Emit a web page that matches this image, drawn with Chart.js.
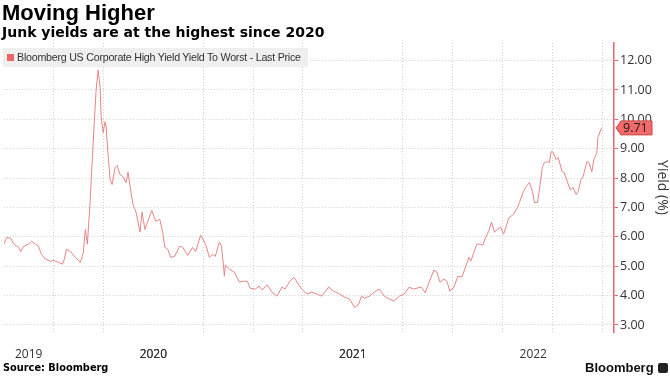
<!DOCTYPE html>
<html>
<head>
<meta charset="utf-8">
<script src="https://cdn.jsdelivr.net/npm/chart.js@4/dist/chart.umd.min.js"></script>
<style>
  html, body { margin: 0; padding: 0; background: #fff; }
  #wrap { position: relative; width: 670px; height: 377px; overflow: hidden; }
  #chart { position: absolute; left: 0; top: 0; }
  .title { position: absolute; left: 2px; top: 2px; font: bold 22px/22px "Liberation Sans", Arial, sans-serif; color: #000; }
  .subtitle { position: absolute; left: 2px; top: 25px; font: bold 14px/14px "DejaVu Sans", sans-serif; color: #000; white-space: nowrap; }
  .legend { position: absolute; left: 3px; top: 48px; width: 305px; height: 19px; background: #efefef; }
  .legend .mark { position: absolute; left: 4px; top: 6px; width: 7px; height: 7px; background: #f06565; }
  .legend .txt { position: absolute; left: 14px; top: 3px; font: 10.7px/13px "Liberation Sans", Arial, sans-serif; letter-spacing: -0.25px; color: #333; white-space: nowrap; }
  .source { position: absolute; left: 3px; top: 362px; font: bold 9.8px/12px "DejaVu Sans", sans-serif; color: #000; white-space: nowrap; }
  .brand { position: absolute; left: 585px; top: 360px; font: bold 13px/15px "Liberation Sans", Arial, sans-serif; color: #111; }
  .brand i { display: inline-block; width: 10px; height: 10px; margin-left: 4px; background: #222; border-radius: 2px; vertical-align: -1px; }
</style>
</head>
<body>
<div id="wrap">
  <canvas id="chart" width="670" height="377"></canvas>
  <div class="title">Moving Higher</div>
  <div class="subtitle">Junk yields are at the highest since 2020</div>
  <div class="legend"><span class="mark"></span><span class="txt">Bloomberg US Corporate High Yield Yield To Worst - Last Price</span></div>
  <div class="source">Source: Bloomberg</div>
  <div class="brand">Bloomberg<i></i></div>
</div>
<script>
// dates as decimal years, yields in %
const DATES = [
  2019.750, 2019.765, 2019.785, 2019.800, 2019.825, 2019.835, 2019.850, 2019.875, 2019.890, 2019.909,
  2019.924, 2019.939, 2019.959, 2019.984, 2020.000, 2020.024, 2020.044, 2020.054, 2020.064, 2020.084,
  2020.109, 2020.134, 2020.149, 2020.159, 2020.169, 2020.183, 2020.188, 2020.203, 2020.213, 2020.223,
  2020.233, 2020.238, 2020.248, 2020.258, 2020.263, 2020.273, 2020.283, 2020.293, 2020.308, 2020.318,
  2020.333, 2020.348, 2020.363, 2020.373, 2020.388, 2020.398, 2020.413, 2020.433, 2020.443, 2020.458,
  2020.473, 2020.492, 2020.512, 2020.532, 2020.547, 2020.557, 2020.572, 2020.587, 2020.607, 2020.632,
  2020.647, 2020.672, 2020.697, 2020.712, 2020.737, 2020.762, 2020.781, 2020.796, 2020.811, 2020.831,
  2020.841, 2020.851, 2020.856, 2020.861, 2020.881, 2020.906, 2020.931, 2020.956, 2020.971, 2020.986,
  2021.011, 2021.031, 2021.046, 2021.070, 2021.095, 2021.120, 2021.145, 2021.160, 2021.185, 2021.205,
  2021.220, 2021.245, 2021.270, 2021.295, 2021.320, 2021.344, 2021.379, 2021.404, 2021.434, 2021.459,
  2021.484, 2021.509, 2021.529, 2021.544, 2021.559, 2021.584, 2021.608, 2021.633, 2021.658, 2021.683,
  2021.708, 2021.733, 2021.758, 2021.783, 2021.803, 2021.843, 2021.863, 2021.883, 2021.907, 2021.922,
  2021.937, 2021.957, 2021.972, 2021.987, 2022.007, 2022.027, 2022.047, 2022.067, 2022.082, 2022.092,
  2022.107, 2022.122, 2022.137, 2022.152, 2022.167, 2022.182, 2022.196, 2022.211, 2022.226, 2022.241,
  2022.256, 2022.271, 2022.281, 2022.306, 2022.326, 2022.336, 2022.356, 2022.371, 2022.386, 2022.401,
  2022.411, 2022.426, 2022.436, 2022.451, 2022.461, 2022.476, 2022.486, 2022.495, 2022.505, 2022.520,
  2022.530, 2022.550, 2022.560, 2022.575, 2022.590, 2022.605, 2022.620, 2022.630, 2022.645, 2022.655,
  2022.674, 2022.684, 2022.699, 2022.709, 2022.724, 2022.729, 2022.744, 2022.749
];
const YIELDS = [
  5.75, 5.98, 5.95, 5.75, 5.64, 5.50, 5.68, 5.75, 5.85, 5.75,
  5.68, 5.40, 5.24, 5.17, 5.20, 5.13, 5.07, 5.24, 5.58, 5.50,
  5.30, 5.13, 5.47, 6.25, 5.75, 7.20, 7.90, 9.80, 11.00, 11.68,
  11.10, 10.10, 9.55, 9.92, 9.75, 8.80, 7.95, 7.78, 8.36, 8.43,
  8.12, 8.05, 7.85, 8.20, 7.51, 7.10, 6.84, 6.16, 6.84, 6.25,
  6.55, 6.90, 6.53, 6.60, 6.16, 5.65, 5.58, 5.30, 5.34, 5.68,
  5.65, 5.37, 5.64, 5.50, 6.05, 5.75, 5.30, 5.40, 5.34, 5.82,
  5.70, 5.07, 4.66, 5.04, 4.90, 4.80, 4.46, 4.49, 4.49, 4.25,
  4.22, 4.32, 4.19, 4.36, 4.12, 3.98, 4.29, 4.22, 4.49, 4.62,
  4.46, 4.22, 4.05, 4.12, 4.05, 3.98, 4.29, 4.15, 4.05, 3.95,
  3.88, 3.60, 3.70, 3.98, 3.91, 3.98, 4.12, 4.22, 3.98, 3.88,
  3.82, 3.98, 4.05, 4.29, 4.22, 4.29, 4.10, 4.46, 4.87, 4.80,
  4.46, 4.56, 4.49, 4.15, 4.29, 4.66, 4.63, 5.00, 5.30, 5.17,
  5.47, 5.75, 5.75, 5.72, 5.99, 6.19, 6.50, 6.16, 6.26, 6.33,
  6.09, 6.39, 6.63, 6.77, 7.00, 7.17, 7.55, 7.72, 7.85, 7.55,
  7.17, 7.17, 7.61, 8.39, 8.53, 8.56, 8.53, 8.90, 8.87, 8.63,
  8.70, 8.22, 8.19, 7.90, 7.61, 7.68, 7.44, 7.55, 7.95, 8.05,
  8.56, 8.53, 8.22, 8.63, 8.87, 9.38, 9.65, 9.71
];

const X_MIN = 2019.75, X_MAX = 2022.81;
const QUARTER_GRID = [2020, 2020.25, 2020.5, 2020.75, 2021, 2021.25, 2021.5, 2021.75, 2022, 2022.25, 2022.5, 2022.75];
const YEAR_LABELS = ['2019', '2020', '2021', '2022'];
const YEAR_LABEL_POS = [2019.875, 2020.5, 2021.5, 2022.405];

const LINE_COLOR = '#e88585';
const AXIS_RED = '#e8626f';
const GRID = '#cfcfcf';
const FONT = '"Open Sans", "Liberation Sans", sans-serif';

const lastValueTag = {
  id: 'lastValueTag',
  afterDraw(chart) {
    const y = chart.scales.y;
    const v = YIELDS[YIELDS.length - 1];
    const py = y.getPixelForValue(v);
    const x0 = y.left + 2;
    const ctx = chart.ctx;
    ctx.save();
    ctx.beginPath();
    ctx.moveTo(x0, py);
    ctx.lineTo(x0 + 5, py - 7);
    ctx.lineTo(x0 + 36, py - 7);
    ctx.lineTo(x0 + 36, py + 7);
    ctx.lineTo(x0 + 5, py + 7);
    ctx.closePath();
    ctx.fillStyle = '#f26a6a';
    ctx.fill();
    ctx.strokeStyle = '#c84848';
    ctx.lineWidth = 1;
    ctx.stroke();
    ctx.fillStyle = '#1a1a1a';
    ctx.font = '12.5px ' + FONT;
    ctx.textBaseline = 'middle';
    ctx.fillText(v.toFixed(2), x0 + 7, py + 0.5);
    ctx.restore();
  }
};

new Chart(document.getElementById('chart'), {
  type: 'line',
  data: {
    datasets: [{
      data: DATES.map((d, i) => ({ x: d, y: YIELDS[i] })),
      borderColor: LINE_COLOR,
      borderWidth: 1,
      pointRadius: 0,
      tension: 0,
    }]
  },
  options: {
    responsive: false,
    animation: false,
    layout: { padding: { top: 43, left: 0, right: 0, bottom: 0 } },
    plugins: { legend: { display: false }, tooltip: { enabled: false } },
    scales: {
      x: {
        type: 'linear', position: 'bottom', min: X_MIN, max: X_MAX,
        afterBuildTicks: s => {
          s.ticks = [...QUARTER_GRID, ...YEAR_LABEL_POS].sort((a, b) => a - b).map(v => ({ value: v }));
        },
        afterFit: s => { s.height = 45; },
        ticks: {
          autoSkip: false, maxRotation: 0, padding: 15, color: '#333',
          font: { family: FONT, size: 12 },
          callback: v => { const i = YEAR_LABEL_POS.indexOf(v); return i >= 0 ? YEAR_LABELS[i] : ''; }
        },
        grid: {
          drawTicks: false,
          color: ctx => (ctx.tick && YEAR_LABEL_POS.includes(ctx.tick.value)) ? 'rgba(0,0,0,0)' : GRID,
        },
        border: { display: false, dash: [1, 2] }
      },
      y: {
        position: 'right', min: 2.76, max: 12.6,
        afterFit: s => { s.width = 56; },
        ticks: {
          stepSize: 0.5, includeBounds: false, padding: 2, color: '#333',
          font: { family: FONT, size: 12.5 },
          callback: v => Number.isInteger(v) ? v.toFixed(2) : ''
        },
        grid: {
          tickLength: 4,
          tickColor: AXIS_RED,
          color: ctx => (ctx.tick && Number.isInteger(ctx.tick.value)) ? GRID : 'rgba(0,0,0,0)',
        },
        border: { display: true, color: AXIS_RED, width: 1.5, dash: [1, 2] },
        title: { display: true, text: 'Yield (%)', color: '#333', font: { family: FONT, size: 14 }, padding: 0 }
      }
    }
  },
  plugins: [lastValueTag]
});
</script>
</body>
</html>
